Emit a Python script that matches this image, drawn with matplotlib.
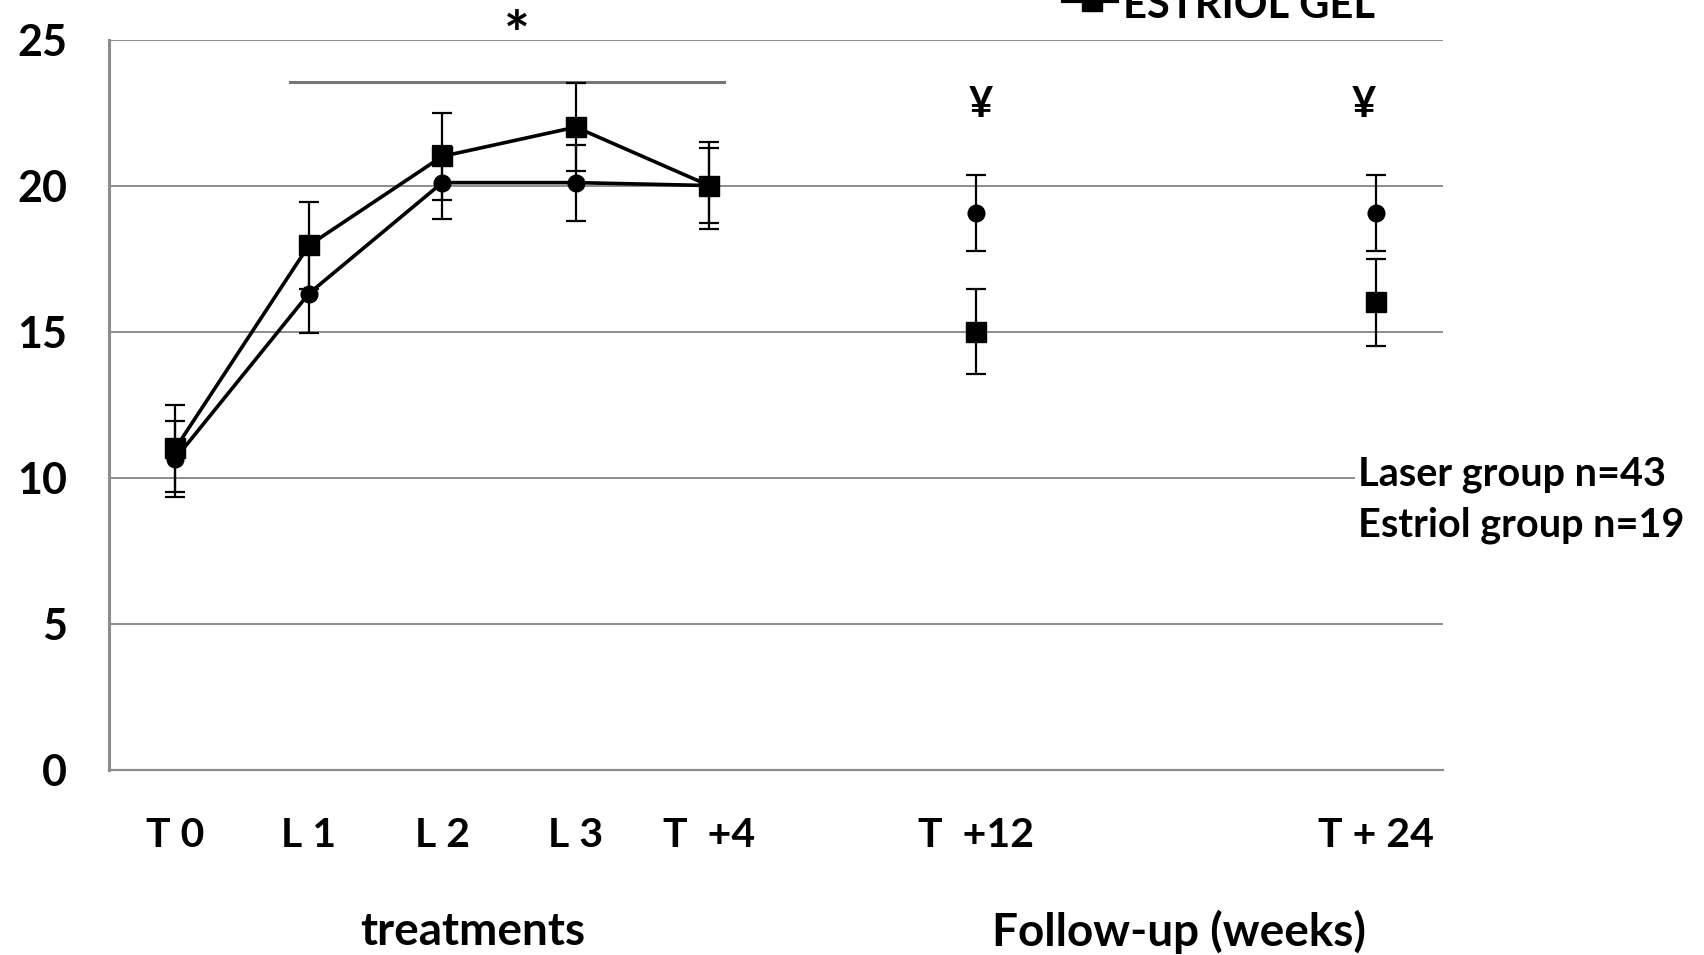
import matplotlib
matplotlib.use('Agg')
import matplotlib.pyplot as plt
from matplotlib.lines import Line2D

plt.rcParams['font.family'] = ['Lato', 'DejaVu Sans']
plt.rcParams['font.weight'] = 'bold'

# category slots: 0-4 treatment visits, 6 and 9 follow-up
x_pos = [0, 1, 2, 3, 4, 6, 9]
x_labels = ['T 0', 'L 1', 'L 2', 'L 3', 'T  +4', 'T  +12', 'T + 24']
n_treat = 5  # points joined by a line

laser = [10.65, 16.3, 20.1, 20.1, 20.0, 19.05, 19.05]
laser_err = [1.3, 1.35, 1.25, 1.3, 1.3, 1.3, 1.3]
estriol = [11.0, 17.95, 21.0, 22.0, 20.0, 15.0, 16.0]
estriol_err = [1.5, 1.5, 1.5, 1.5, 1.5, 1.45, 1.5]

y_ticks = [0, 5, 10, 15, 20, 25]
sig_bar = (0.86, 4.11, 23.56)   # x start, x end, level
star_pos = (2.56, 25.05)
yen_pos = [(6.04, 22.75), (8.91, 22.75)]

grid_col = '#8c8c8c'

fig = plt.figure(figsize=(17.04, 9.55), dpi=100)
ax = fig.add_axes([0.0638, 0.1942, 0.7830, 0.7644])

ax.set_xlim(-0.5, 9.5)
ax.set_ylim(0, 25)
ax.set_yticks(y_ticks)
ax.set_xticks(x_pos)
ax.set_xticklabels(x_labels)
ax.tick_params(length=0, colors='black')
ax.tick_params(axis='y', pad=30, labelsize=31)
ax.tick_params(axis='x', pad=34, labelsize=29.5)
for s in ['top', 'right']:
    ax.spines[s].set_visible(False)
ax.spines['left'].set_color(grid_col)
ax.spines['left'].set_linewidth(2.2)
ax.spines['bottom'].set_color(grid_col)
ax.spines['bottom'].set_linewidth(1.6)
ax.yaxis.grid(True, color=grid_col, linewidth=1.4)
ax.set_axisbelow(True)

# error bars first, then the lines and markers
ax.errorbar(x_pos, laser, yerr=laser_err, fmt='none', ecolor='black',
            elinewidth=1.6, capsize=7, capthick=1.6, zorder=3)
ax.errorbar(x_pos, estriol, yerr=estriol_err, fmt='none', ecolor='black',
            elinewidth=1.6, capsize=7, capthick=1.6, zorder=3)
ax.plot(x_pos[:n_treat], laser[:n_treat], color='black', lw=2.6, zorder=4)
ax.plot(x_pos[:n_treat], estriol[:n_treat], color='black', lw=2.6, zorder=4)
ax.plot(x_pos, laser, 'o', color='black', ms=12, ls='none', zorder=5)
ax.plot(x_pos, estriol, 's', color='black', ms=15, ls='none', zorder=5)

# significance marks
ax.plot(sig_bar[:2], [sig_bar[2]] * 2, color='#777777', lw=2.2, zorder=2)
ax.text(star_pos[0], star_pos[1], '*', fontsize=44, ha='center', va='center',
        clip_on=False)
for xx, yy in yen_pos:
    ax.text(xx, yy, '¥', fontsize=30, ha='center', va='center')

fig.text(1358 / 1704, 1 - 500 / 955,
         'Laser group n=43\nEstriol group n=19', fontsize=28.5,
         ha='left', va='center', linespacing=1.42,
         bbox=dict(facecolor='white', edgecolor='none', pad=2))

fig.text(473 / 1704, 1 - 932 / 955, 'treatments', fontsize=33,
         ha='center', va='center')
fig.text(1179 / 1704, 1 - 932 / 955, 'Follow-up (weeks)', fontsize=33,
         ha='center', va='center')

# legend entry, cut by the top edge
fig.add_artist(Line2D([1063 / 1704, 1117 / 1704], [0.999, 0.999],
                      transform=fig.transFigure, color='black', lw=3))
fig.add_artist(Line2D([1092 / 1704], [0.999], transform=fig.transFigure,
                      color='black', marker='s', markersize=15, ls='none'))
fig.text(1123 / 1704, 1 - 18 / 955, 'ESTRIOL GEL', fontsize=30,
         ha='left', va='baseline')

fig.savefig('out.png', dpi=100)
